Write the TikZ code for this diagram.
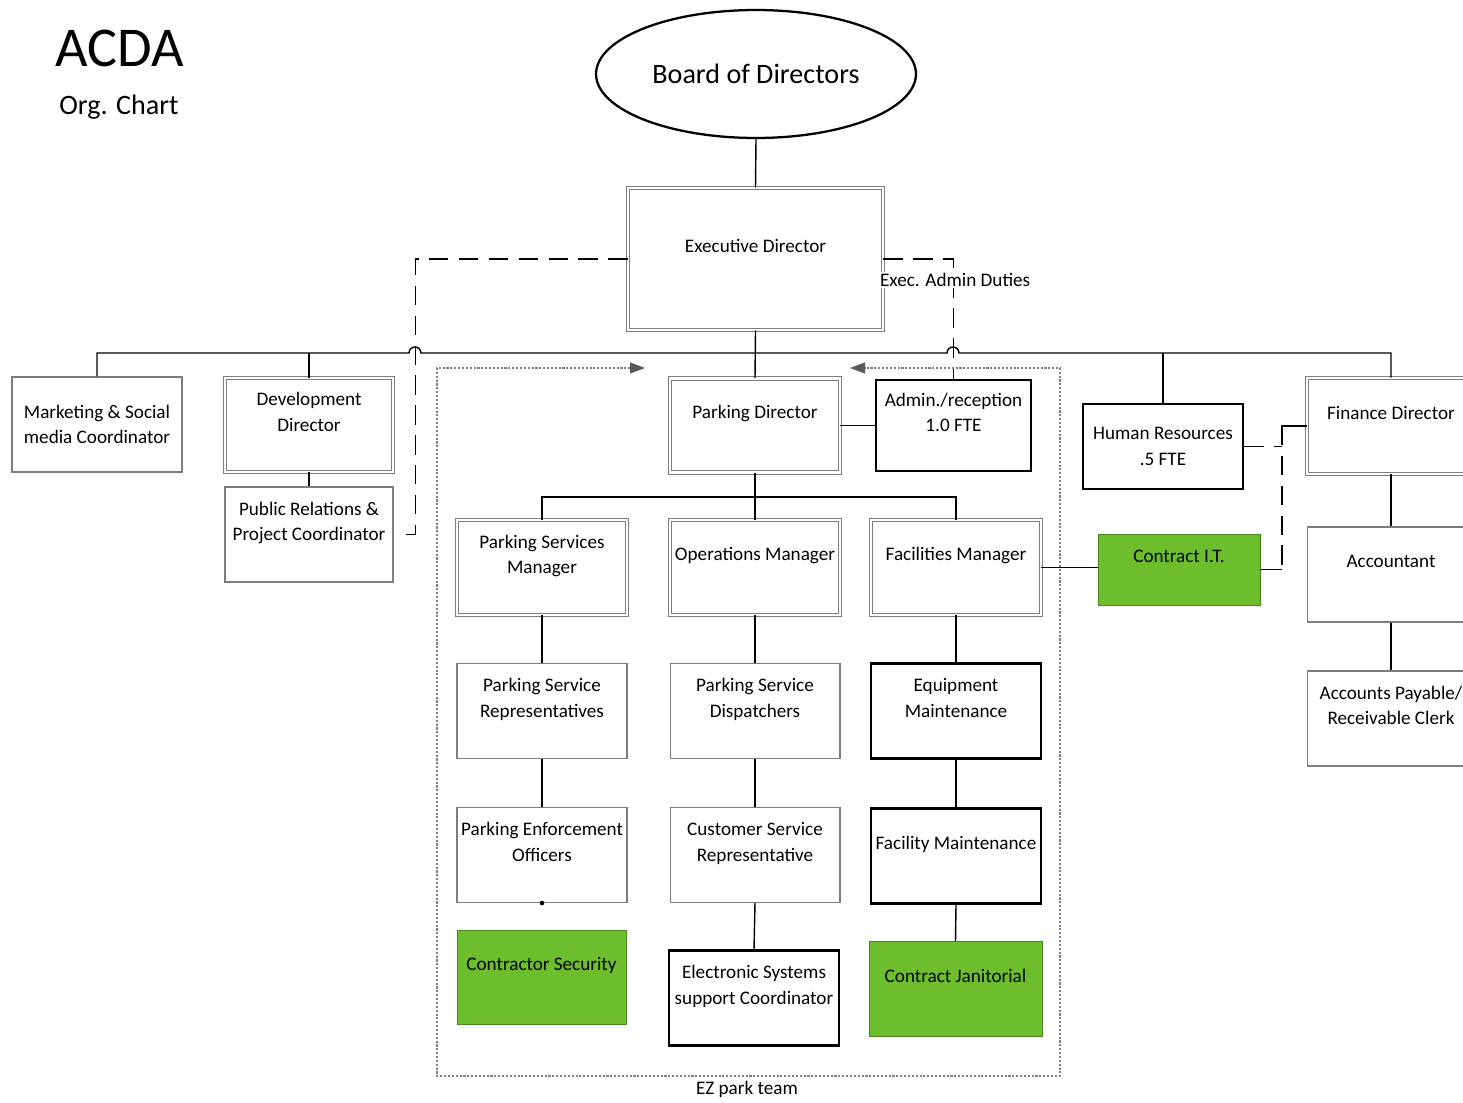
\documentclass[tikz,border=0pt]{standalone}
\usepackage{fontspec}
\setmainfont{Carlito}
\usetikzlibrary{shapes.geometric}
\usetikzlibrary{arrows.meta}
\definecolor{contractgreen}{RGB}{108,190,44}
\definecolor{boxgray}{RGB}{125,125,125}

\begin{document}
\begin{tikzpicture}[x=0.02cm, y=-0.02cm, font=\fontsize{10.9}{14.6}\selectfont, text=black,
  box/.style={draw=boxgray, line width=0.6pt, minimum width=3.4cm, minimum height=1.9cm,
    align=center, inner sep=1pt, text depth=15pt},
  dbox/.style={box, double=white, double distance=1.6pt, line width=0.5pt},
  tbox/.style={box, draw=black, line width=1.4pt},
  gbox/.style={box, fill=contractgreen, draw=contractgreen!70!black, line width=0.4pt},
  link/.style={line width=0.8pt},
  dashlink/.style={line width=0.9pt, dash pattern=on 11pt off 6pt},
  ezline/.style={draw=gray, line width=0.6pt, dash pattern=on 1.2pt off 1pt}]
\path [use as bounding box, fill=white] (0,0) rectangle (1463,1102);

\node (acda) at (120,48) {\fontsize{32}{36}\selectfont ACDA};
\node (org) at (119,107) {\fontsize{16}{18}\selectfont Org. Chart};

\node (board) [ellipse, draw, line width=1.3pt, minimum width=6.4cm, minimum height=2.56cm,
  font=\fontsize{16}{18}\selectfont] at (756,74) {Board of Directors};
\node (exec) [dbox, minimum width=5.1cm, minimum height=2.84cm] at (755.5,259) {Executive Director};

\node (mkt) [box, text depth={}] at (97,424.5) {Marketing \& Social\\media Coordinator};
\node (dev) [dbox, minimum width=3.36cm, minimum height=1.88cm] at (309,425) {Development\\Director};
\node (pr) [box, minimum width=3.36cm] at (309,534.5) {Public Relations \&\\Project Coordinator};
\node (pdir) [dbox, minimum height=1.88cm] at (755,425.5) {Parking Director};
\node (admin) [tbox, minimum width=3.1cm, minimum height=1.82cm] at (953.5,425.5) {Admin./reception\\1.0 FTE};
\node (hr) [tbox, text depth={}, minimum width=3.2cm, minimum height=1.7cm] at (1163,446.5) {Human Resources\\.5 FTE};
\node (fin) [dbox, minimum width=3.36cm, minimum height=1.92cm] at (1391,426) {Finance Director};

\node (psm) [dbox] at (542,567.5) {Parking Services\\Manager};
\node (ops) [dbox] at (755,567.5) {Operations Manager};
\node (fac) [dbox] at (956,567.5) {Facilities Manager};
\node (it) [gbox, minimum width=3.24cm, minimum height=1.42cm] at (1179,569.5) {Contract I.T.};
\node (acct) [box, minimum width=3.36cm] at (1391,574.5) {Accountant};
\node (apr) [box, minimum width=3.36cm] at (1391,718.5) {Accounts Payable/\\Receivable Clerk};

\node (psr) [box] at (542,711) {Parking Service\\Representatives};
\node (psd) [box] at (755,711) {Parking Service\\Dispatchers};
\node (equip) [tbox] at (956,711) {Equipment\\Maintenance};
\node (peo) [box] at (542,855) {Parking Enforcement\\Officers};
\node (csr) [box] at (755,855) {Customer Service\\Representative};
\node (facm) [tbox] at (956,856) {Facility Maintenance};
\node (sec) [gbox, minimum width=3.38cm, minimum height=1.88cm] at (541.5,977) {Contractor Security};
\node (ess) [tbox] at (754,998) {Electronic Systems\\support Coordinator};
\node (jan) [gbox, minimum width=3.46cm] at (955.5,989) {Contract Janitorial};
\node (ezteam) at (747,1089) {EZ park team};

\coordinate (busl) at (97,353);
\coordinate (busr) at (1391,353);
\coordinate (pbus) at (755,497);
\coordinate (fj) at (1282,426);

\draw [link] (board.south) -- (exec.north);
\draw [link] (exec.south) -- (pdir.north);
\draw [link] (mkt.north) -- (busl) -- (409,353) arc [start angle=180, end angle=0, radius=0.12cm]
  -- (947,353) arc [start angle=180, end angle=0, radius=0.12cm] -- (busr) -- (fin.north);
\draw [link] (dev.north) -- (dev.north |- busl);
\draw [link] (hr.north) -- (hr.north |- busl);
\draw [link] (dev.south) -- (pr.north);

\draw [link] (pdir.south) -- (ops.north);
\draw [link] (psm.north) |- (pbus) -| (fac.north);
\draw [link] (pdir.east) -- (admin.west);
\draw [link] (fac.east) -- (fac.east -| it.west);
\draw [link] (psm.south) -- (psr.north);
\draw [link] (psr.south) -- (peo.north);
\draw [link] (ops.south) -- (psd.north);
\draw [link] (psd.south) -- (csr.north);
\draw [link] (csr.south) -- (ess.north);
\draw [link] (fac.south) -- (equip.north);
\draw [link] (equip.south) -- (facm.north);
\draw [link] (facm.south) -- (jan.north);
\draw [link] (fin.south) -- (acct.north);
\draw [link] (acct.south) -- (apr.north);
\fill (peo.south) circle [radius=1.3pt];

\draw [link] (fin.west |- fj) -- (fj) -- ++(0,6);
\draw [dashlink] (fj) -- (fj |- it.east);
\draw [link] (it.east) -- (fj |- it.east);
\draw [dashlink] (hr.east) -- (fj |- hr.east);

\draw [dashlink] (exec.west) -| ([xshift=0.44cm]pr.east) -- ([xshift=0.2cm]pr.east);
\draw [dashlink] (exec.east) -| (admin.north);
\node (duties) [anchor=west, fill=white, inner sep=1pt] at (878,280) {Exec. Admin Duties};

\draw [ezline, arrows={{Triangle[width=0.22cm,length=0.3cm,color=black!65]}-{Triangle[width=0.22cm,length=0.3cm,color=black!65]}}]
  (645,368) -- (437,368) -- (437,1076) -- (1060,1076) -- (1060,368) -- (850,368);
\end{tikzpicture}
\end{document}
